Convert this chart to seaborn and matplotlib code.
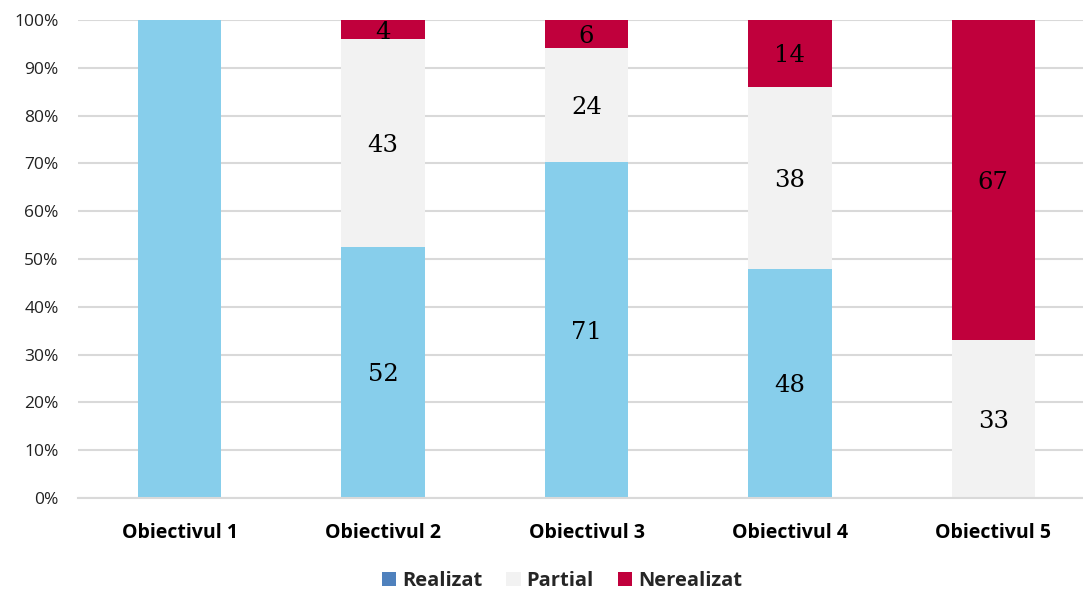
import numpy as np
import pandas as pd
import seaborn as sns
import matplotlib.pyplot as plt
from matplotlib.patches import Patch
from matplotlib.ticker import PercentFormatter, FixedLocator

categories = ["Obiectivul 1", "Obiectivul 2", "Obiectivul 3", "Obiectivul 4", "Obiectivul 5"]
realizat = [100, 52, 71, 48, 0]
partial = [0, 43, 24, 38, 33]
nerealizat = [0, 4, 6, 14, 67]
series = ["Realizat", "Partial", "Nerealizat"]
bar_colors = ["#87CEEB", "#F2F2F2", "#C0003C"]
legend_colors = ["#4F81BD", "#F2F2F2", "#C0003C"]

sns.set_style("white")
plt.rcParams["font.family"] = ["Open Sans", "DejaVu Sans"]

df = pd.DataFrame({"cat": categories, "Realizat": realizat,
                   "Partial": partial, "Nerealizat": nerealizat})
tot = df[series].sum(axis=1)
for s in series:
    df[s + "_pct"] = df[s] / tot * 100
df["c1"] = df["Realizat_pct"]
df["c2"] = df["c1"] + df["Partial_pct"]
df["c3"] = df["c2"] + df["Nerealizat_pct"]

fig = plt.figure(figsize=(10.83, 5.91), dpi=100)
ax = fig.add_axes([78 / 1083, (591 - 498) / 591, 1017 / 1083, 478 / 591])

# stacked by overlaying cumulative bars, tallest first
for col, color in zip(["c3", "c2", "c1"], bar_colors[::-1]):
    sns.barplot(data=df, x="cat", y=col, color=color, width=0.41,
                saturation=1, linewidth=0, ax=ax, zorder=2)

for i, row in df.iterrows():
    bottoms = [0, row["c1"], row["c2"]]
    for s, b in zip(series, bottoms):
        v = row[s]
        if v > 0 and row[s + "_pct"] < 100:
            ax.text(i, b + row[s + "_pct"] / 2, str(v), ha="center", va="center_baseline",
                    fontsize=17.5, family=["DejaVu Serif"], color="black", zorder=3)

ax.set_ylim(0, 100)
ax.set_xlim(-0.5, 4.5)
ax.set_yticks(np.arange(0, 101, 10))
ax.yaxis.set_major_formatter(PercentFormatter(decimals=0))
ax.grid(axis="y", color="#D9D9D9", linewidth=1.5, zorder=0)
ax.set_axisbelow(True)
ax.set_xlabel("")
ax.set_ylabel("")
for s in ["top", "right", "left"]:
    ax.spines[s].set_visible(False)
ax.spines["bottom"].set_color("#D9D9D9")
ax.spines["bottom"].set_linewidth(1.5)
ax.tick_params(axis="y", length=0, pad=14, labelsize=12.5, labelcolor="#222222")
ax.tick_params(axis="x", which="major", length=0, pad=18, labelsize=14, labelcolor="black")
for lab in ax.get_xticklabels():
    lab.set_fontweight("bold")
ax.xaxis.set_minor_locator(FixedLocator(np.arange(-0.5, 5, 1)))
ax.tick_params(axis="x", which="minor", length=7, width=1.5, color="#D9D9D9", direction="out")

handles = [Patch(facecolor=c, edgecolor="none", label=l) for c, l in zip(legend_colors, series)]
leg = fig.legend(handles=handles, loc="center", bbox_to_anchor=(562 / 1083, 1 - 581 / 591), ncol=3,
                 frameon=False, prop={"weight": "bold", "size": 14.5},
                 handlelength=0.7, handleheight=0.7, handletextpad=0.3, columnspacing=1.2)

fig.savefig("out.png", dpi=100)
